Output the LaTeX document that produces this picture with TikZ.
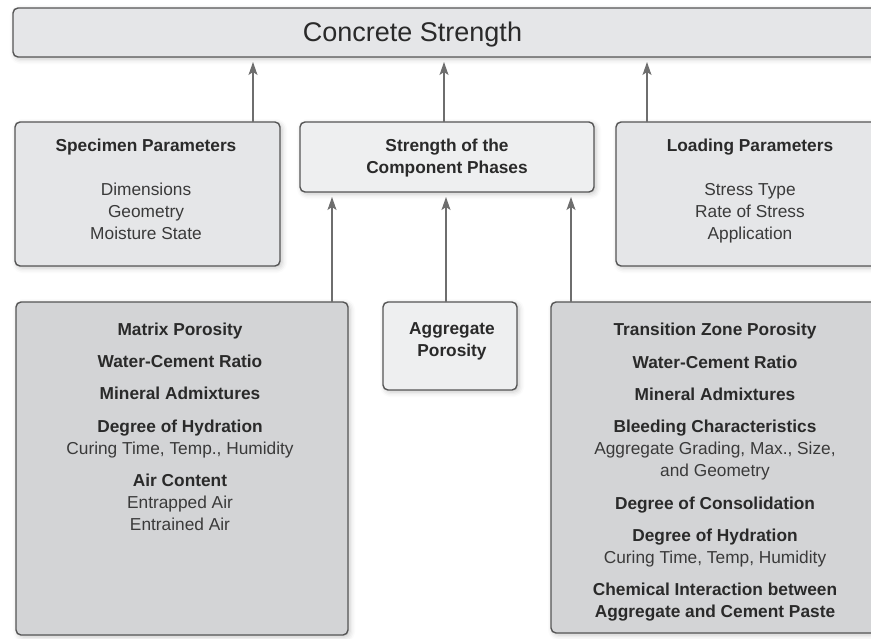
\documentclass[tikz,border=0pt]{standalone}
\usepackage{fontspec}
\setmainfont{Liberation Sans}
\usetikzlibrary{arrows.meta,shadows.blur}
\definecolor{bordc}{HTML}{555555}
\definecolor{arrc}{HTML}{6E6E6E}
\definecolor{fillA}{HTML}{E5E6E8}
\definecolor{fillB}{HTML}{EEEFF0}
\definecolor{fillC}{HTML}{D3D4D6}
\definecolor{txtc}{HTML}{2A2A2A}
\definecolor{txtl}{HTML}{3A3A3A}
\tikzset{
  box/.style={draw=bordc, line width=1.4pt, rounded corners=5pt, anchor=north west,
    inner sep=0pt, outer sep=0pt,
    blur shadow={shadow xshift=2pt, shadow yshift=-2pt, shadow blur radius=5pt, shadow opacity=22}},
  arr/.style={draw=arrc, line width=1.3pt, -{Stealth[length=13pt,width=9pt,inset=3pt]}, shorten >=5pt},
  txt/.style={anchor=north, inner sep=0pt, align=center, text=txtc,
    font=\fontsize{17.3}{22}\selectfont},
  ttl/.style={anchor=base, inner sep=0pt, text=txtc, font=\fontsize{27}{30}\selectfont}
}
\newcommand{\sub}[1]{{\color{txtl}#1}}
\begin{document}
\begin{tikzpicture}[x=1pt,y=-1pt]
\useasboundingbox (0,0) rectangle (871,638);
\clip (0,0) rectangle (871,638);
% boxes
\node[box, fill=fillA, minimum width=870pt, minimum height=49pt] (top) at (13,8) {};
\node[box, fill=fillA, minimum width=265pt, minimum height=144pt] (spec) at (15,122) {};
\node[box, fill=fillB, minimum width=294pt, minimum height=70pt] (str) at (300,122) {};
\node[box, fill=fillA, minimum width=270pt, minimum height=144pt] (load) at (616,122) {};
\node[box, fill=fillC, minimum width=332pt, minimum height=333pt] (mat) at (16,302) {};
\node[box, fill=fillB, minimum width=134pt, minimum height=88pt] (agg) at (383,302) {};
\node[box, fill=fillC, minimum width=335pt, minimum height=331pt] (tra) at (551,302) {};
% texts
\node[ttl] (ttltxt) at (412.5,41) {Concrete Strength};
\node[txt] (spectxt) at (146,138.6) {\textbf{Specimen Parameters}\\[22pt]\sub{Dimensions}\\\sub{Geometry}\\\sub{Moisture State}};
\node[txt] (strtxt) at (447,138.6) {\textbf{Strength of the}\\\textbf{Component Phases}};
\node[txt] (loadtxt) at (750,138.6) {\textbf{Loading Parameters}\\[22pt]\sub{Stress Type}\\\sub{Rate of Stress}\\\sub{Application}};
\node[txt] (aggtxt) at (452,322.6) {\textbf{Aggregate}\\\textbf{Porosity}};
\node[txt] (mattxt) at (180,322.6) {\textbf{Matrix Porosity}\\[10pt]
  \textbf{Water-Cement Ratio}\\[10pt]
  \textbf{Mineral Admixtures}\\[11pt]
  \textbf{Degree of Hydration}\\\sub{Curing Time, Temp., Humidity}\\[10pt]
  \textbf{Air Content}\\\sub{Entrapped Air}\\\sub{Entrained Air}};
\node[txt] (tratxt) at (715,322.6) {\textbf{Transition Zone Porosity}\\[11pt]
  \textbf{Water-Cement Ratio}\\[10pt]
  \textbf{Mineral Admixtures}\\[10pt]
  \textbf{Bleeding Characteristics}\\\sub{Aggregate Grading, Max., Size,}\\\sub{and Geometry}\\[11pt]
  \textbf{Degree of Consolidation}\\[10pt]
  \textbf{Degree of Hydration}\\\sub{Curing Time, Temp, Humidity}\\[10.5pt]
  \textbf{Chemical Interaction between}\\\textbf{Aggregate and Cement Paste}};
% arrow columns
\coordinate (c1) at (253,0);
\coordinate (c2) at (444,0);
\coordinate (c3) at (647,0);
\coordinate (c4) at (332,0);
\coordinate (c5) at (446,0);
\coordinate (c6) at (571,0);
\draw[arr] (spec.north -| c1) -- (top.south -| c1);
\draw[arr] (str.north -| c2) -- (top.south -| c2);
\draw[arr] (load.north -| c3) -- (top.south -| c3);
\draw[arr] (mat.north -| c4) -- (str.south -| c4);
\draw[arr] (agg.north -| c5) -- (str.south -| c5);
\draw[arr] (tra.north -| c6) -- (str.south -| c6);
\end{tikzpicture}
\end{document}
